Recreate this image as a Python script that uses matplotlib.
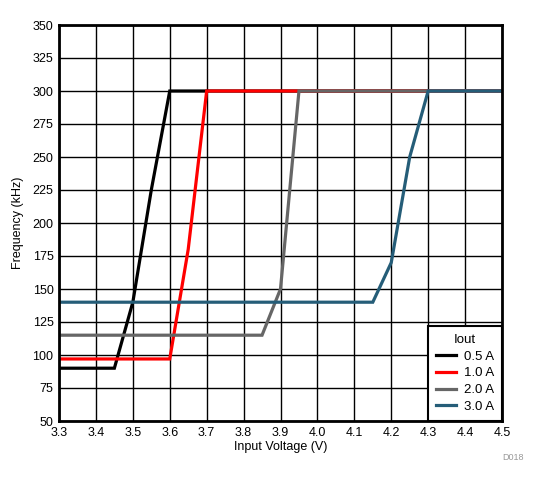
import matplotlib
matplotlib.use("Agg")
import matplotlib.pyplot as plt
import numpy as np

plt.rcParams['font.family'] = ['Liberation Sans', 'DejaVu Sans']

labels = ["0.5 A", "1.0 A", "2.0 A", "3.0 A"]
colors = ["#000000", "#FF0000", "#666666", "#255D78"]

x_05 = [3.3, 3.45, 3.5, 3.55, 3.6, 4.5]
y_05 = [90, 90, 140, 225, 300, 300]
x_10 = [3.3, 3.6, 3.65, 3.7, 4.5]
y_10 = [97, 97, 180, 300, 300]
x_20 = [3.3, 3.85, 3.9, 3.95, 4.5]
y_20 = [115, 115, 150, 300, 300]
x_30 = [3.3, 4.15, 4.2, 4.25, 4.3, 4.5]
y_30 = [140, 140, 170, 250, 300, 300]

xs = [x_05, x_10, x_20, x_30]
ys = [y_05, y_10, y_20, y_30]

fig = plt.figure(figsize=(5.41, 4.83), dpi=100)
ax = fig.add_axes([59/541, 62/483, 443/541, 396/483])

for x, y, c, l in zip(xs, ys, colors, labels):
    ax.plot(x, y, color=c, lw=2.3, label=l, solid_joinstyle='miter')

ax.set_xlim(3.3, 4.5)
ax.set_ylim(50, 350)
ax.set_xticks(np.round(np.arange(3.3, 4.501, 0.1), 1))
ax.set_xticklabels([f"{v:.1f}" for v in np.arange(3.3, 4.501, 0.1)])
ax.set_yticks(np.arange(50, 351, 25))
ax.grid(True, color='black', lw=1)
ax.set_axisbelow(True)
ax.tick_params(length=0, labelsize=9, pad=4)
for s in ax.spines.values():
    s.set_linewidth(2)
    s.set_color('black')
ax.set_xlabel("Input Voltage (V)", fontsize=9, labelpad=2)
ax.set_ylabel("Frequency (kHz)", fontsize=9, labelpad=6)

leg = ax.legend(title="Iout", loc='lower right', borderaxespad=0, fancybox=False,
                edgecolor='black', fontsize=9.5, title_fontsize=9.5, handlelength=1.5,
                handletextpad=0.6, labelspacing=0.35, borderpad=0.6, framealpha=1)
leg.get_frame().set_linewidth(1.5)

fig.text(513/541, 1 - 457/483, "D018", fontsize=6.5, color='#999999', ha='center', va='center')

fig.savefig("out.png", dpi=100)
